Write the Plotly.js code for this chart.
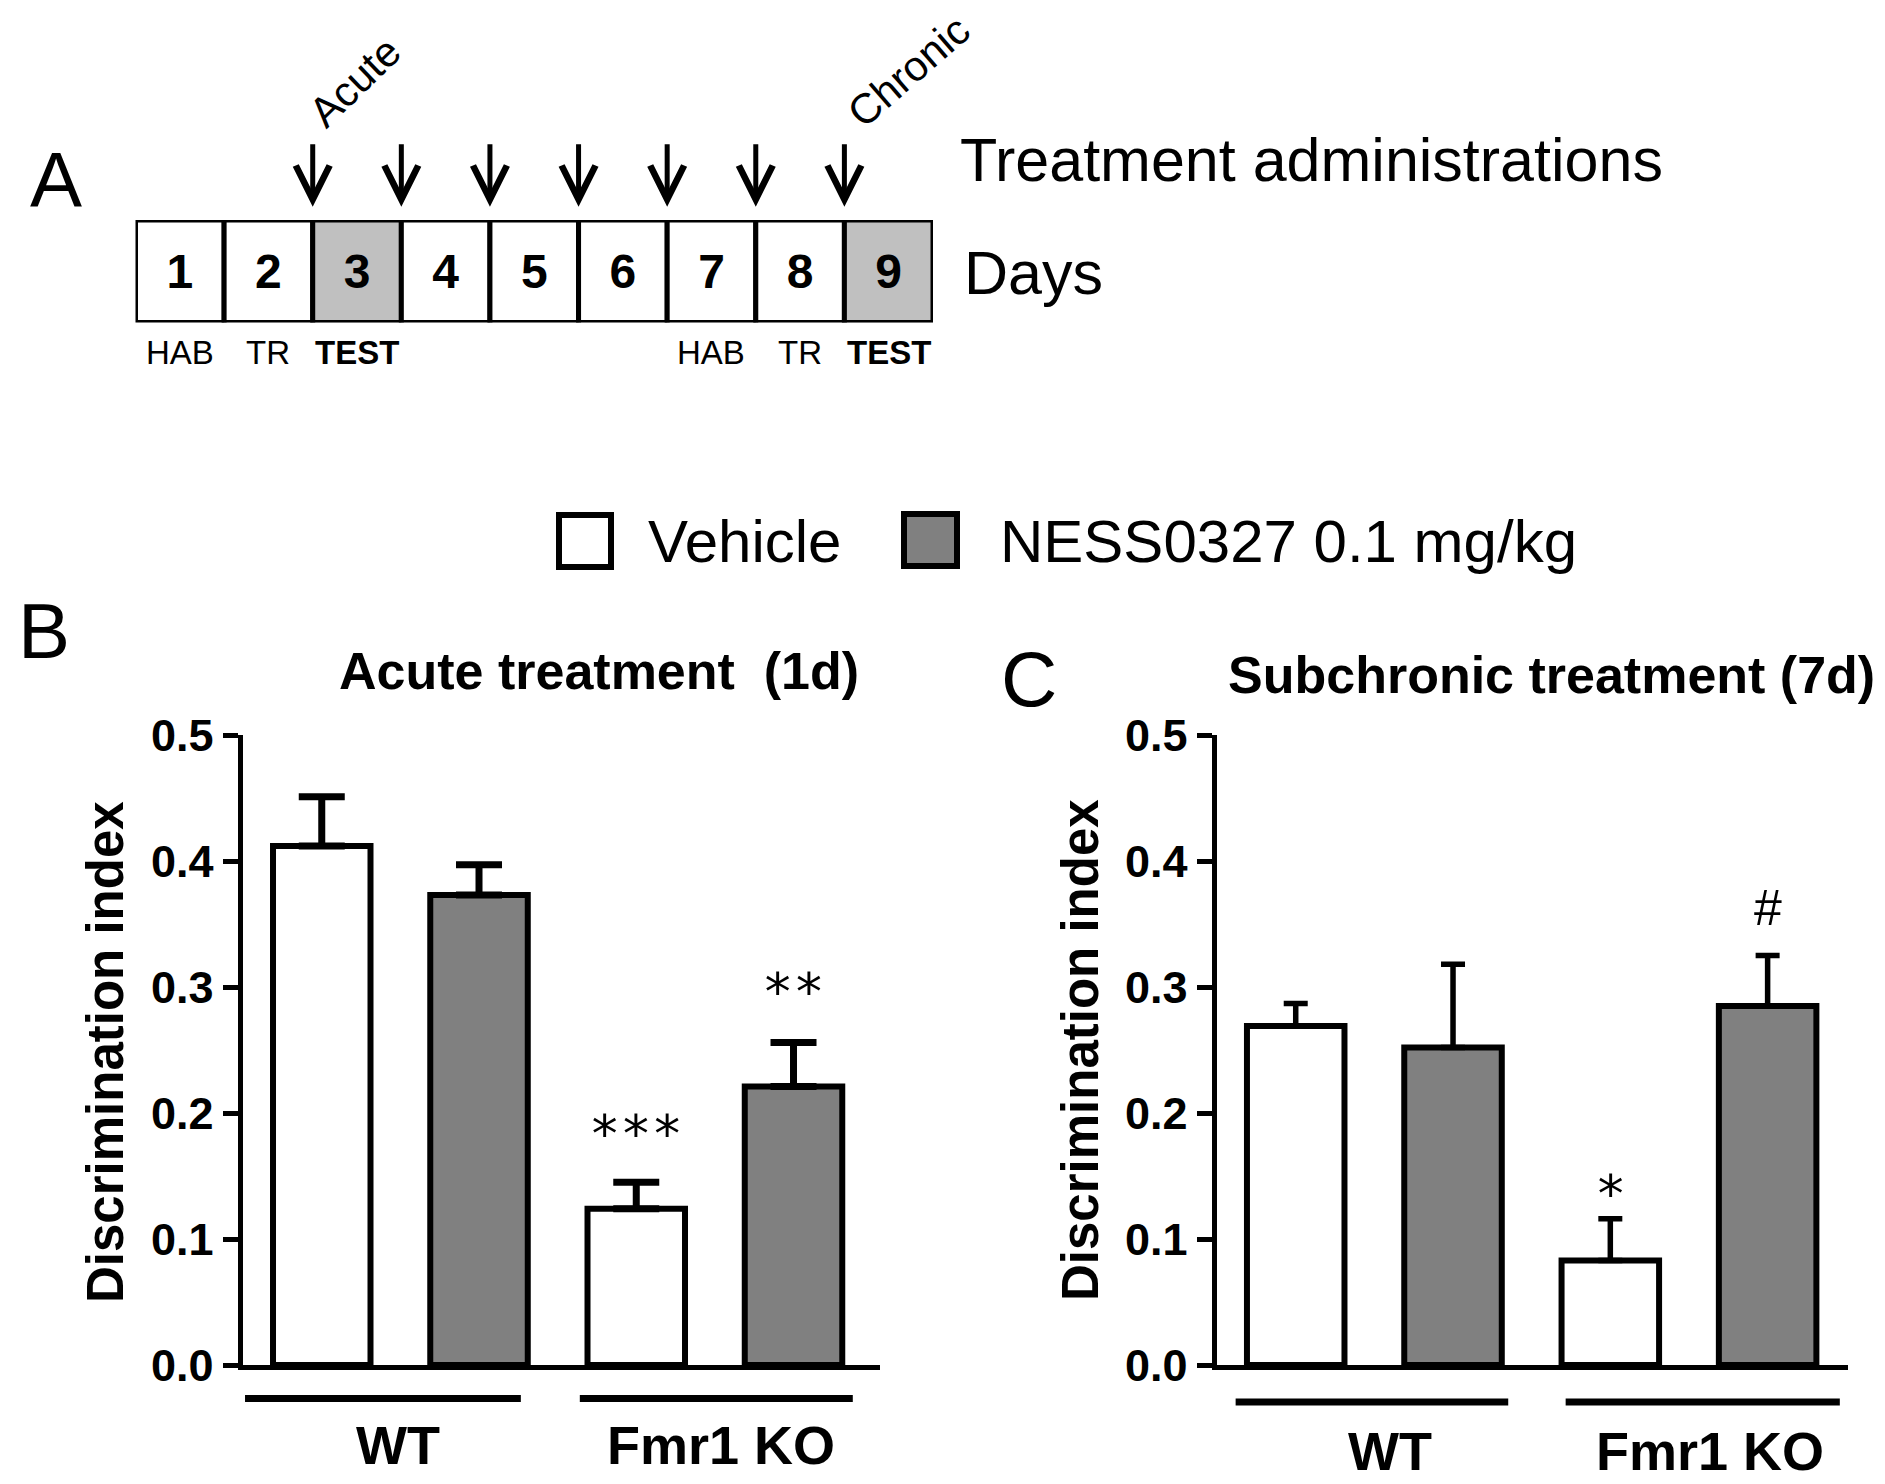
<!DOCTYPE html>
<html>
<head>
<meta charset="utf-8">
<script src="https://cdn.plot.ly/plotly-3.0.1.min.js"></script>
<style>html,body{margin:0;padding:0;background:#fff}#chart{width:1885px;height:1484px}</style>
</head>
<body>
<div id="chart"></div>
<script>
// ---------------- DATA ----------------
const groups = ["WT", "Fmr1 KO"];
const barCategories = ["WT Vehicle", "WT NESS0327", "Fmr1 KO Vehicle", "Fmr1 KO NESS0327"];
const seriesNames = ["Vehicle", "NESS0327 0.1 mg/kg"];

// Panel B: acute treatment (1d)
const acuteVehicle = [0.412, 0.124];
const acuteVehicleErr = [0.039, 0.021];
const acuteNess = [0.373, 0.221];
const acuteNessErr = [0.024, 0.035];
const acuteMarks = ["", "", "***", "**"];
const acuteMarkY = [null, null, 0.190, 0.302];

// Panel C: subchronic treatment (7d)
const subVehicle = [0.269, 0.083];
const subVehicleErr = [0.018, 0.033];
const subNess = [0.252, 0.285];
const subNessErr = [0.066, 0.040];
const subMarks = ["", "", "*", "#"];
const subMarkY = [null, null, 0.142, 0.362];

const yTicks = [0, 0.1, 0.2, 0.3, 0.4, 0.5];

// Panel A: timeline
const days = [1, 2, 3, 4, 5, 6, 7, 8, 9];
const testDays = [3, 9];
const phaseLabels = ["HAB", "TR", "TEST", "", "", "", "HAB", "TR", "TEST"];
const administrationDays = [3, 4, 5, 6, 7, 8, 9];
const administrationNames = ["Acute", "", "", "", "", "", "Chronic"];

// ---------------- STYLE / LAYOUT HELPERS ----------------
const W = 1885, H = 1484;
const px = x => x / W;
const py = y => 1 - y / H;
const FONT = "Liberation Sans, Arial, Helvetica, sans-serif";
const MONO = "DejaVu Sans Mono, monospace";
const GRAY = "#808080";
const LIGHTGRAY = "#c0c0c0";

const traces = [];
function addPanel(xa, ya, veh, vehErr, ness, nessErr, capW, errT) {
  traces.push({
    type: "bar", xaxis: xa, yaxis: ya, name: seriesNames[0],
    x: [barCategories[0], barCategories[2]], y: veh,
    width: 0.62,
    marker: {color: "#ffffff", line: {color: "#000", width: 6}},
    error_y: {type: "data", symmetric: false, array: vehErr, arrayminus: [0, 0],
              color: "#000", thickness: errT, width: capW},
    showlegend: false, hoverinfo: "skip"
  });
  traces.push({
    type: "bar", xaxis: xa, yaxis: ya, name: seriesNames[1],
    x: [barCategories[1], barCategories[3]], y: ness,
    width: 0.62,
    marker: {color: GRAY, line: {color: "#000", width: 6}},
    error_y: {type: "data", symmetric: false, array: nessErr, arrayminus: [0, 0],
              color: "#000", thickness: errT, width: capW},
    showlegend: false, hoverinfo: "skip"
  });
}
addPanel("x", "y", acuteVehicle, acuteVehicleErr, acuteNess, acuteNessErr, 23, 7);
addPanel("x2", "y2", subVehicle, subVehicleErr, subNess, subNessErr, 12, 5.5);

// timeline
traces.push({
  type: "bar", xaxis: "x3", yaxis: "y3",
  x: days, y: days.map(() => 1), base: 0, width: 1,
  marker: {color: days.map(d => testDays.includes(d) ? LIGHTGRAY : "#ffffff"),
           line: {color: "#000", width: 5}},
  text: days.map(String), textposition: "inside", insidetextanchor: "middle",
  textangle: 0, constraintext: "none",
  textfont: {family: FONT, size: 48, weight: "bold", color: "#000"},
  cliponaxis: false, showlegend: false, hoverinfo: "skip"
});

function xAxis(domain, range) {
  return {domain: domain, type: "category", categoryarray: barCategories, range: range,
          showline: true, linecolor: "#000", linewidth: 5, ticks: "", showticklabels: false,
          showgrid: false, zeroline: false, fixedrange: true};
}
function yAxis(domain, anchor) {
  return {domain: domain, anchor: anchor, range: [0, 0.5], tickvals: yTicks, tickformat: ".1f",
          ticks: "outside", ticklen: 15, tickwidth: 5, tickcolor: "#000",
          showline: true, linecolor: "#000", linewidth: 5,
          tickfont: {family: FONT, size: 45, weight: "bold", color: "#000"},
          showgrid: false, zeroline: false, fixedrange: true};
}
const yDom = [py(1365), py(735)];

const annotations = [];
const shapes = [];

function txt(x, y, text, size, opts) {
  annotations.push(Object.assign({xref: "paper", yref: "paper", x: px(x), y: py(y), text: text,
    showarrow: false, xanchor: "center", yanchor: "middle",
    font: {family: FONT, size: size, color: "#000"}}, opts || {}));
}

// Panel letters
txt(56, 180, "A", 78);
txt(44, 631, "B", 78);
txt(1029, 679, "C", 78);

// Panel A texts
txt(958, 160, "Treatment administrations", 61, {xanchor: "left"});
txt(962, 273, "Days", 61, {xanchor: "left"});

administrationDays.forEach((d, i) => {
  annotations.push({xref: "x3", yref: "paper", x: d - 0.5, y: py(206.7), text: "",
    showarrow: true, ax: 0, ay: -64, arrowhead: 5, arrowsize: 1.33, arrowwidth: 5,
    arrowcolor: "#000", standoff: 0});
});
txt(354, 82, administrationNames[0], 42, {textangle: -44});
txt(908, 71, administrationNames[6], 42, {textangle: -41});

days.forEach((d, i) => {
  if (!phaseLabels[i]) return;
  annotations.push({xref: "x3", yref: "paper", x: d, y: py(352.5), text: phaseLabels[i],
    showarrow: false, xanchor: "center", yanchor: "middle",
    font: {family: FONT, size: 33, color: "#000", weight: phaseLabels[i] === "TEST" ? "bold" : "normal"}});
});

// Legend
const legendBoxes = [[559, 611, 515, 567, "#ffffff", 646], [904, 957, 514, 566, GRAY, 998]];
legendBoxes.forEach((b, i) => {
  shapes.push({type: "rect", xref: "paper", yref: "paper", x0: px(b[0]), x1: px(b[1]),
    y0: py(b[3]), y1: py(b[2]), line: {color: "#000", width: 6}, fillcolor: b[4]});
  txt(b[5], 541, seriesNames[i], 60, {xanchor: "left"});
});

// Panel titles and y-axis titles
const boldFont = s => ({family: FONT, size: s, weight: "bold", color: "#000"});
txt(599, 671, "Acute treatment&nbsp;&nbsp;(1d)", 52, {font: boldFont(52)});
txt(1551, 675, "Subchronic treatment (7d)", 52, {font: boldFont(52)});
txt(105, 1052, "Discrimination index", 51, {textangle: -90, font: boldFont(51)});
txt(1080, 1050, "Discrimination index", 51, {textangle: -90, font: boldFont(51)});

// Group brackets + labels
function groupDecor(xref, spans, lineY, labelX, labelY) {
  spans.forEach((s, i) => {
    shapes.push({type: "line", xref: xref, yref: "paper", x0: s[0], x1: s[1], y0: py(lineY), y1: py(lineY),
      line: {color: "#000", width: 7}});
    annotations.push({xref: xref, yref: "paper", x: labelX[i], y: py(labelY), text: groups[i],
      showarrow: false, xanchor: "center", yanchor: "middle",
      font: boldFont(54)});
  });
}
groupDecor("x", [[-0.488, 1.266], [1.641, 3.377]], 1398.5, [0.484, 2.538], 1445);
groupDecor("x2", [[-0.382, 1.351], [1.716, 3.459]], 1402, [0.597, 2.633], 1451);

// Significance marks
function marks(xref, yref, m, my) {
  m.forEach((t, i) => {
    if (!t) return;
    const isHash = t === "#";
    annotations.push({xref: xref, yref: yref, x: barCategories[i], y: my[i], text: t,
      showarrow: false, xanchor: "center", yanchor: "middle",
      yshift: isHash ? 1 : -8,
      font: {family: isHash ? FONT : MONO, size: isHash ? 50 : 52, color: "#000"}});
  });
}
marks("x", "y", acuteMarks, acuteMarkY);
marks("x2", "y2", subMarks, subMarkY);

const layout = {
  width: W, height: H, margin: {l: 0, r: 0, t: 0, b: 0},
  paper_bgcolor: "#fff", plot_bgcolor: "rgba(0,0,0,0)",
  showlegend: false, barmode: "overlay",
  font: {family: FONT, color: "#000"},
  xaxis: Object.assign(xAxis([px(242.5), px(880)], [-0.504, 3.55]), {anchor: "y"}),
  yaxis: yAxis(yDom, "x"),
  xaxis2: Object.assign(xAxis([px(1216.6), px(1848)], [-0.503, 3.511]), {anchor: "y2"}),
  yaxis2: yAxis(yDom, "x2"),
  xaxis3: {domain: [px(135.5), px(933)], range: [0.5, 9.5], visible: false, anchor: "y3", fixedrange: true},
  yaxis3: {domain: [py(322.5), py(220)], range: [0, 1], visible: false, anchor: "x3", fixedrange: true},
  annotations: annotations,
  shapes: shapes
};

Plotly.newPlot("chart", traces, layout, {displayModeBar: false, staticPlot: true});
</script>
</body>
</html>
